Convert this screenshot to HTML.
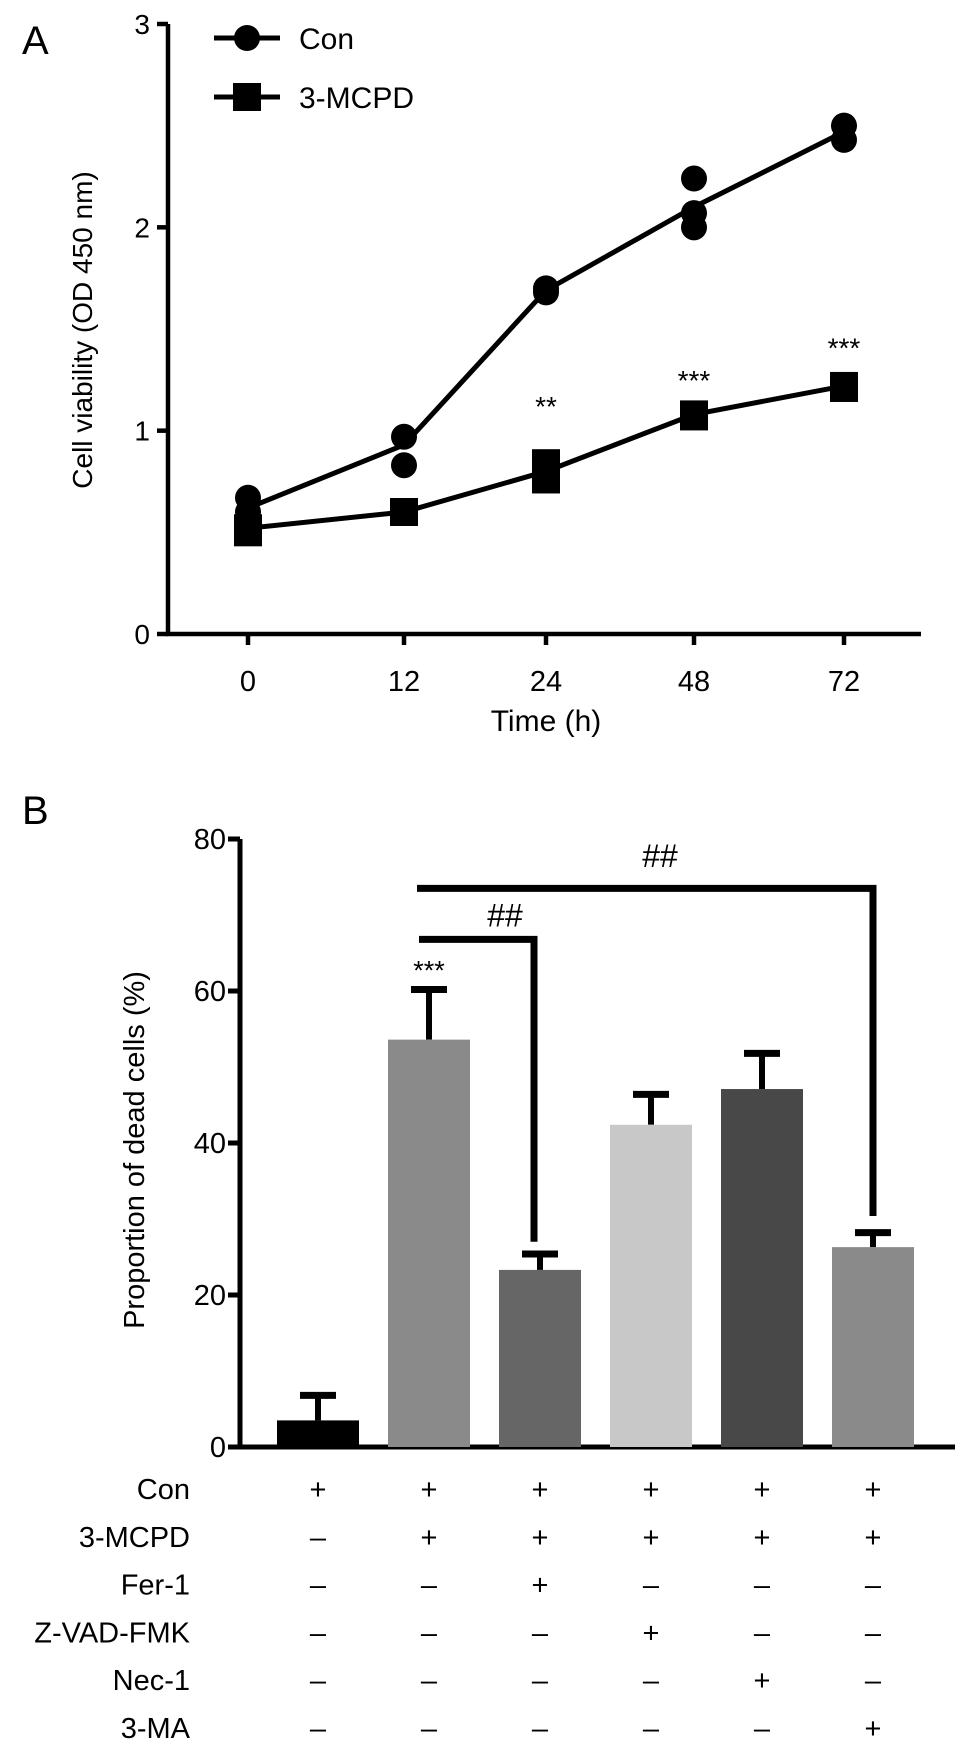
<!DOCTYPE html>
<html><head><meta charset="utf-8"><style>
html,body{margin:0;padding:0;background:#fff;}
svg{display:block;font-family:"Liberation Sans",Arial,sans-serif;}
</style></head><body>
<svg id="fig" width="969" height="1749" viewBox="0 0 969 1749" xmlns="http://www.w3.org/2000/svg">
<text x="22" y="54" font-size="40">A</text>
<text x="22" y="824" font-size="40">B</text>
<g id="pa"></g>
<g id="pb"></g>
</svg>
<script>
// ---------- Panel A data ----------
const timeLabels = ["0","12","24","48","72"];
const conMeans = [0.62, 0.93, 1.69, 2.1, 2.47];
const conPoints = [[0.67,0.6],[0.97,0.83],[1.7,1.68],[2.24,2.07,2.0],[2.5,2.43]];
const mcpdMeans = [0.52, 0.6, 0.8, 1.08, 1.22];
const mcpdPoints = [[0.52,0.5],[0.6,0.6],[0.84,0.76],[1.08,1.07],[1.22,1.21]];
const sigA = ["","","**","***","***"];
const sigAy = [0, 0, 1.13, 1.26, 1.42];
const yTicksA = [0,1,2,3];
// ---------- Panel B data ----------
const groups = ["g1","g2","g3","g4","g5","g6"];
const barValues = [3.5, 53.6, 23.3, 42.4, 47.1, 26.3];
const barErrors = [3.3, 6.6, 2.1, 4.0, 4.7, 1.9];
const barColors = ["#000","#8a8a8a","#666","#c8c8c8","#484848","#8a8a8a"];
const yTicksB = [0,20,40,60,80];
const rowLabels = ["Con","3-MCPD","Fer-1","Z-VAD-FMK","Nec-1","3-MA"];
const tableSigns = [
 ["+","+","+","+","+","+"],
 ["–","+","+","+","+","+"],
 ["–","–","+","–","–","–"],
 ["–","–","–","+","–","–"],
 ["–","–","–","–","+","–"],
 ["–","–","–","–","–","+"]];

const NS="http://www.w3.org/2000/svg";
function mk(parent,tag,attrs,text){const e=document.createElementNS(NS,tag);for(const k in attrs)e.setAttribute(k,attrs[k]);if(text!==undefined)e.textContent=text;parent.appendChild(e);return e;}

// ---------- Panel A ----------
const pa=document.getElementById('pa');
const axA={x0:168,x1:921,y0:634,yTop:24};
function xa(i){return [248,404,546,694,844][i];} // categorical axis slots
function ya(v){return axA.y0-v*(axA.y0-axA.yTop)/3;}
let e;
e=mk(pa,'path',{d:`M${axA.x0},${axA.yTop} V${axA.y0} H${axA.x1}`,fill:'none',stroke:'#000','stroke-width':4.5});


yTicksA.forEach(t=>{
 e=mk(pa,'line',{x1:axA.x0-11,x2:axA.x0,y1:ya(t),y2:ya(t),stroke:'#000','stroke-width':4.5});
 
 
 e=mk(pa,'text',{x:axA.x0-18,y:ya(t)+10,'font-size':28,'text-anchor':'end'},String(t));
 
 
});
timeLabels.forEach((l,i)=>{
 e=mk(pa,'line',{x1:xa(i),x2:xa(i),y1:axA.y0,y2:axA.y0+11,stroke:'#000','stroke-width':4.5});
 
 
 e=mk(pa,'text',{x:xa(i),y:691,'font-size':29,'text-anchor':'middle'},l);
 
 
});
e=mk(pa,'text',{x:546,y:731,'font-size':30,'text-anchor':'middle'},'Time (h)');


e=mk(pa,'text',{x:0,y:0,'font-size':28,'text-anchor':'middle',transform:'translate(92,330) rotate(-90)'},'Cell viability (OD 450 nm)');


e=mk(pa,'polyline',{points:conMeans.map((v,i)=>xa(i)+','+ya(v)).join(' '),fill:'none',stroke:'#000','stroke-width':5});


e=mk(pa,'polyline',{points:mcpdMeans.map((v,i)=>xa(i)+','+ya(v)).join(' '),fill:'none',stroke:'#000','stroke-width':5});


conPoints.forEach((arr,i)=>arr.forEach(v=>{
 e=mk(pa,'circle',{cx:xa(i),cy:ya(v),r:13,fill:'#000'});
 
 
}));
mcpdPoints.forEach((arr,i)=>arr.forEach(v=>{
 e=mk(pa,'rect',{x:xa(i)-14,y:ya(v)-14,width:28,height:28,fill:'#000'});
 
 
}));
sigA.forEach((s,i)=>{ if(!s)return;
 e=mk(pa,'text',{x:xa(i),y:ya(sigAy[i])+12,'font-size':28,'text-anchor':'middle'},s);
 
 
});
// legend
e=mk(pa,'line',{x1:214,x2:280,y1:38,y2:38,stroke:'#000','stroke-width':5});


e=mk(pa,'circle',{cx:247,cy:38,r:13,fill:'#000'});


e=mk(pa,'text',{x:299,y:49,'font-size':30},'Con');


e=mk(pa,'line',{x1:214,x2:280,y1:97,y2:97,stroke:'#000','stroke-width':5});


e=mk(pa,'rect',{x:233,y:83,width:28,height:28,fill:'#000'});


e=mk(pa,'text',{x:299,y:108,'font-size':30},'3-MCPD');



// ---------- Panel B ----------
const pb=document.getElementById('pb');
const axB={x0:240,x1:955,y0:1447,yTop:839};
function yb(v){return axB.y0-v*(axB.y0-axB.yTop)/80;}
function xb(i){return 318+i*111;}
const bw=82;
e=mk(pb,'path',{d:`M${axB.x0},${axB.yTop} V${axB.y0} H${axB.x1}`,fill:'none',stroke:'#000','stroke-width':5});


yTicksB.forEach(t=>{
 e=mk(pb,'line',{x1:axB.x0-12,x2:axB.x0,y1:yb(t),y2:yb(t),stroke:'#000','stroke-width':5});
 
 
 e=mk(pb,'text',{x:axB.x0-14,y:yb(t)+10,'font-size':29,'text-anchor':'end'},String(t));
 
 
});
e=mk(pb,'text',{x:0,y:0,'font-size':29,'text-anchor':'middle',transform:'translate(144,1150) rotate(-90)'},'Proportion of dead cells (%)');


groups.forEach((g,i)=>{
 const v=barValues[i],er=barErrors[i],x=xb(i);
 e=mk(pb,'line',{x1:x,x2:x,y1:yb(v),y2:yb(v+er),stroke:'#000','stroke-width':6});
 
 
 e=mk(pb,'line',{x1:x-18,x2:x+18,y1:yb(v+er),y2:yb(v+er),stroke:'#000','stroke-width':7});
 
 
 e=mk(pb,'rect',{x:x-bw/2,y:yb(v),width:bw,height:yb(0)-yb(v),fill:barColors[i]});
 
 
});
e=mk(pb,'text',{x:xb(1),y:yb(63.2)+13,'font-size':27,'text-anchor':'middle'},'***');


e=mk(pb,'path',{d:`M${xb(1)-12},${yb(73.5)} H${xb(5)} V${yb(30.4)}`,fill:'none',stroke:'#000','stroke-width':7});


e=mk(pb,'path',{d:`M${xb(1)-10},${yb(66.8)} H${xb(2)-6} V${yb(27)}`,fill:'none',stroke:'#000','stroke-width':7});


e=mk(pb,'text',{x:660,y:yb(76.3),'font-size':32,'text-anchor':'middle'},'##');


e=mk(pb,'text',{x:505,y:yb(68.5),'font-size':32,'text-anchor':'middle'},'##');


rowLabels.forEach((l,r)=>{
 const y=1489+r*47.8;
 e=mk(pb,'text',{x:190,y:y+10,'font-size':29,'text-anchor':'end'},l);
 
 
 tableSigns[r].forEach((s,i)=>{
  e=mk(pb,'text',{x:xb(i),y:y+10,'font-size':29,'text-anchor':'middle'},s);
  
  
 });
});
</script>
</body></html>
